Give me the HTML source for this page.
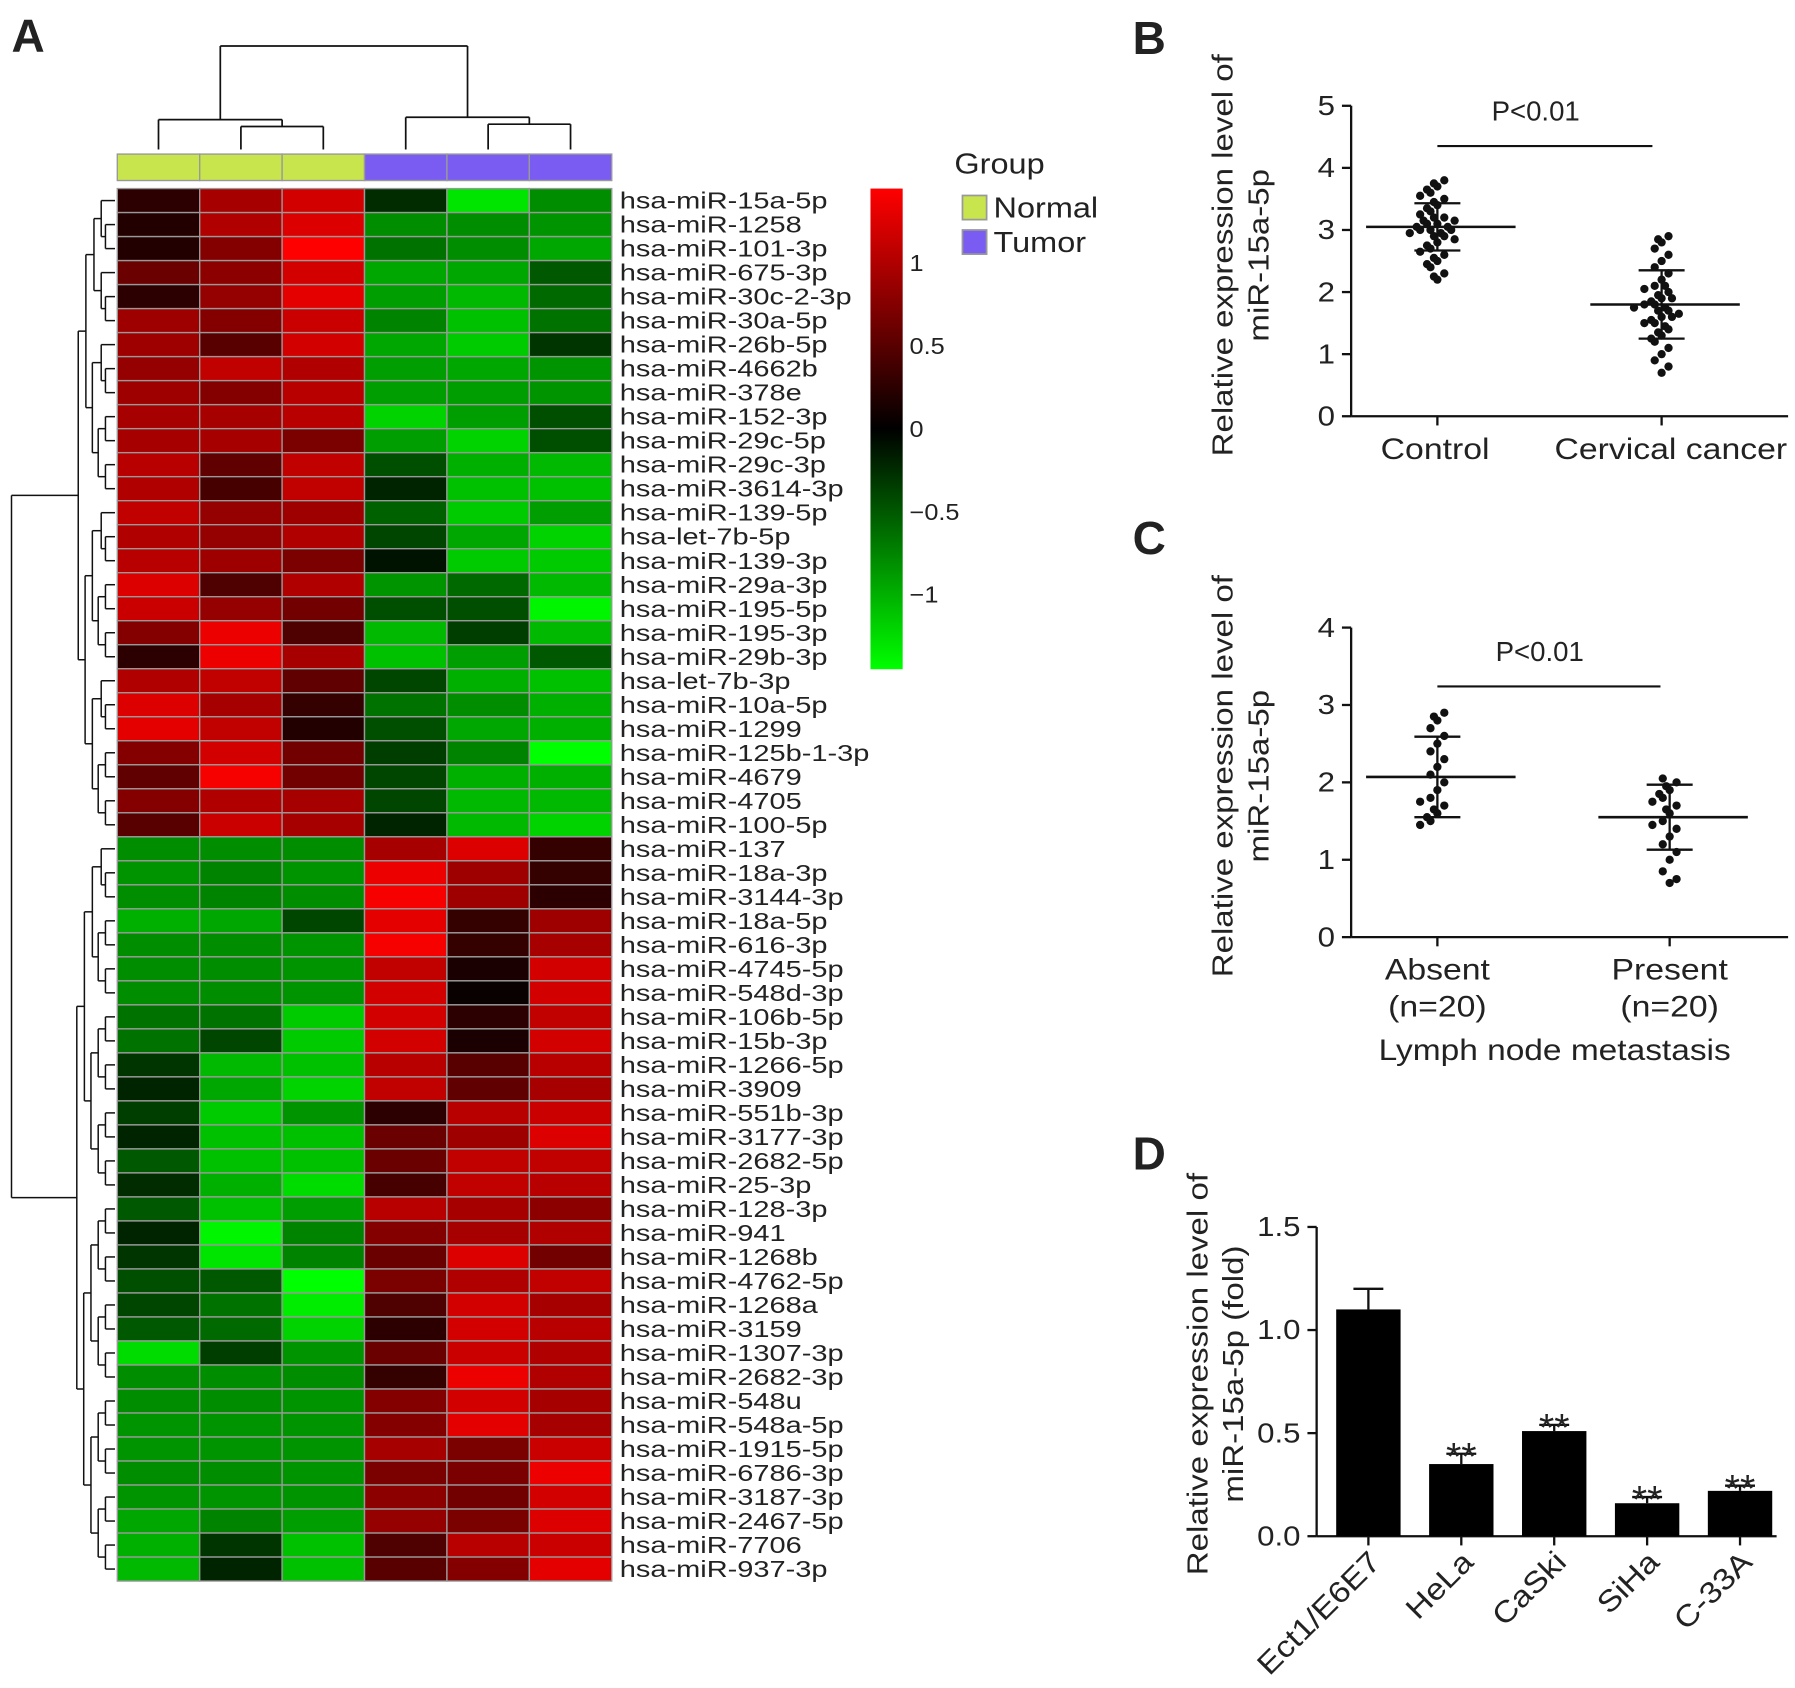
<!DOCTYPE html>
<html><head><meta charset="utf-8"><style>
html,body{margin:0;padding:0;background:#fff}
svg{display:block}
text{font-family:"Liberation Sans",Arial,sans-serif;fill:#222}
</style></head><body>
<svg id="fig" width="1795" height="1688" viewBox="0 0 1561 1468" preserveAspectRatio="none" xmlns="http://www.w3.org/2000/svg">
<rect width="1561" height="1468" fill="#fff"/>
<g id="pA"></g>
<g id="pB"></g>
<g id="pC"></g>
<g id="pD"></g>
</svg>
<script>
const rowNames=["hsa-miR-15a-5p","hsa-miR-1258","hsa-miR-101-3p","hsa-miR-675-3p","hsa-miR-30c-2-3p","hsa-miR-30a-5p","hsa-miR-26b-5p","hsa-miR-4662b","hsa-miR-378e","hsa-miR-152-3p","hsa-miR-29c-5p","hsa-miR-29c-3p","hsa-miR-3614-3p","hsa-miR-139-5p","hsa-let-7b-5p","hsa-miR-139-3p","hsa-miR-29a-3p","hsa-miR-195-5p","hsa-miR-195-3p","hsa-miR-29b-3p","hsa-let-7b-3p","hsa-miR-10a-5p","hsa-miR-1299","hsa-miR-125b-1-3p","hsa-miR-4679","hsa-miR-4705","hsa-miR-100-5p","hsa-miR-137","hsa-miR-18a-3p","hsa-miR-3144-3p","hsa-miR-18a-5p","hsa-miR-616-3p","hsa-miR-4745-5p","hsa-miR-548d-3p","hsa-miR-106b-5p","hsa-miR-15b-3p","hsa-miR-1266-5p","hsa-miR-3909","hsa-miR-551b-3p","hsa-miR-3177-3p","hsa-miR-2682-5p","hsa-miR-25-3p","hsa-miR-128-3p","hsa-miR-941","hsa-miR-1268b","hsa-miR-4762-5p","hsa-miR-1268a","hsa-miR-3159","hsa-miR-1307-3p","hsa-miR-2682-3p","hsa-miR-548u","hsa-miR-548a-5p","hsa-miR-1915-5p","hsa-miR-6786-3p","hsa-miR-3187-3p","hsa-miR-2467-5p","hsa-miR-7706","hsa-miR-937-3p"];
const sampleGroups=["Normal","Normal","Normal","Tumor","Tumor","Tumor"];
const heatValues=[
[0.25,0.95,1.2,-0.25,-1.3,-0.8],[0.2,1.0,1.25,-0.8,-0.8,-0.85],[0.2,0.75,1.45,-0.65,-0.8,-0.95],[0.6,0.8,1.2,-0.95,-0.95,-0.5],
[0.25,0.85,1.3,-0.9,-1.05,-0.6],[0.9,0.75,1.15,-0.75,-1.1,-0.65],[0.9,0.5,1.2,-0.95,-1.15,-0.3],[0.85,1.1,1.0,-0.9,-0.95,-0.85],
[0.9,0.75,1.05,-0.9,-0.9,-0.85],[0.95,0.95,1.05,-1.2,-0.9,-0.45],[0.95,0.95,0.7,-0.9,-1.2,-0.45],[1.05,0.55,1.1,-0.45,-1.0,-1.05],
[1.0,0.4,1.1,-0.2,-1.1,-1.1],[1.1,0.85,0.9,-0.55,-1.15,-0.9],[1.0,0.85,1.0,-0.4,-0.95,-1.2],[1.05,0.9,0.7,-0.1,-1.15,-1.15],
[1.25,0.45,1.0,-0.85,-0.6,-1.05],[1.15,0.85,0.65,-0.45,-0.45,-1.4],[0.75,1.35,0.45,-1.05,-0.35,-1.05],[0.25,1.35,0.95,-1.1,-0.9,-0.5],
[1.0,1.1,0.55,-0.4,-1.0,-1.1],[1.25,0.95,0.3,-0.65,-0.8,-1.0],[1.3,1.1,0.2,-0.45,-0.95,-1.0],[0.75,1.2,0.65,-0.35,-0.75,-1.45],
[0.55,1.4,0.65,-0.4,-1.0,-1.0],[0.75,1.0,0.95,-0.4,-1.05,-1.05],[0.5,1.15,0.95,-0.2,-1.05,-1.2],
[-0.8,-0.8,-0.8,0.95,1.25,0.3],[-0.85,-0.75,-0.85,1.35,0.9,0.3],[-0.8,-0.75,-0.8,1.4,0.9,0.25],[-1.0,-0.95,-0.4,1.3,0.3,0.9],
[-0.8,-0.8,-0.85,1.4,0.3,0.95],[-0.8,-0.8,-0.85,1.1,0.15,1.2],[-0.8,-0.8,-0.85,1.2,0.05,1.2],[-0.65,-0.65,-1.15,1.2,0.25,1.1],
[-0.65,-0.4,-1.15,1.2,0.15,1.2],[-0.3,-1.05,-1.1,1.05,0.5,1.05],[-0.2,-0.95,-1.2,1.1,0.55,0.95],[-0.35,-1.15,-0.85,0.25,1.05,1.15],
[-0.2,-1.1,-1.1,0.6,0.9,1.25],[-0.5,-1.1,-1.1,0.6,1.1,1.1],[-0.25,-1.0,-1.25,0.4,1.1,1.05],[-0.5,-1.1,-0.9,1.05,0.95,0.8],
[-0.2,-1.4,-0.75,0.75,0.95,1.0],[-0.3,-1.3,-0.75,0.6,1.25,0.65],[-0.45,-0.5,-1.45,0.7,1.0,1.1],[-0.4,-0.65,-1.35,0.45,1.2,0.95],
[-0.5,-0.6,-1.2,0.25,1.2,1.05],[-1.25,-0.35,-0.85,0.6,1.15,1.0],[-0.8,-0.8,-0.8,0.3,1.35,1.0],[-0.8,-0.8,-0.85,0.75,1.2,0.95],
[-0.85,-0.85,-0.85,0.75,1.3,0.95],[-0.85,-0.85,-0.85,0.95,0.7,1.15],[-0.8,-0.8,-0.85,0.7,0.7,1.35],[-0.85,-0.85,-0.85,0.8,0.65,1.2],
[-0.95,-0.75,-0.9,0.85,0.7,1.25],[-1.0,-0.3,-1.1,0.45,1.05,1.15],[-1.05,-0.2,-1.1,0.5,0.75,1.3]];
const colorTicks=[1,0.5,0,-0.5,-1];
const colorTickLabels=["1","0.5","0","\u22120.5","\u22121"];

const bCats=["Control","Cervical cancer"];
const bControl=[3.8,3.75,3.7,3.65,3.6,3.55,3.5,3.45,3.4,3.35,3.3,3.25,3.2,3.2,3.15,3.15,3.1,3.1,3.05,3.05,3.0,3.0,2.95,2.95,2.9,2.9,2.85,2.8,2.75,2.7,2.65,2.6,2.55,2.5,2.45,2.4,2.3,2.25,2.2,3.0];
const bCancer=[2.9,2.85,2.8,2.7,2.6,2.5,2.4,2.3,2.2,2.1,2.05,2.0,1.95,1.9,1.85,1.8,1.8,1.75,1.7,1.7,1.65,1.6,1.55,1.5,1.5,1.45,1.4,1.35,1.3,1.25,1.2,1.1,1.0,0.9,0.8,0.7,1.6,1.9,2.1,1.75];
const bMeans=[3.05,1.8];
const bSD=[0.38,0.55];
const bTicks=[0,1,2,3,4,5];

const cCats=["Absent","Present"];
const cAbsent=[2.9,2.85,2.8,2.7,2.6,2.5,2.4,2.3,2.2,2.1,2.0,1.9,1.8,1.75,1.7,1.65,1.6,1.55,1.5,1.45];
const cPresent=[2.05,2.0,1.95,1.9,1.85,1.8,1.75,1.7,1.65,1.6,1.5,1.45,1.4,1.3,1.2,1.1,1.0,0.85,0.75,0.7];
const cMeans=[2.07,1.55];
const cSD=[0.52,0.42];
const cTicks=[0,1,2,3,4];

const dCats=["Ect1/E6E7","HeLa","CaSki","SiHa","C-33A"];
const dValues=[1.1,0.35,0.51,0.16,0.22];
const dErr=[0.1,0.05,0.03,0.03,0.025];
const dSig=["","**","**","**","**"];
const dTicks=[0,0.5,1.0,1.5];
const dTickLabels=["0.0","0.5","1.0","1.5"];

const NS="http://www.w3.org/2000/svg";
function mk(tag,attrs,parent,txt){const e=document.createElementNS(NS,tag);for(const k in attrs)e.setAttribute(k,attrs[k]);if(txt!==undefined)e.textContent=txt;parent.appendChild(e);return e;}
function stretch(e,f){const l=e.getComputedTextLength();if(l>0){e.setAttribute('textLength',(l*f).toFixed(1));e.setAttribute('lengthAdjust','spacingAndGlyphs');}return e;}
function line(p,x1,y1,x2,y2,w,c){return mk('line',{x1,y1,x2,y2,stroke:c||'#111','stroke-width':w||2},p);}
function heatColor(v){const f=Math.min(1,Math.abs(v)/1.45);const c=Math.round(255*f);return v>=0?`rgb(${c},0,0)`:`rgb(0,${c},0)`;}
const SF=1.13;

/* ---------- Panel A ---------- */
const A=document.getElementById('pA');
const hx0=102,hx1=532,hy0=164,hy1=1375;
const cw=(hx1-hx0)/6, rh=(hy1-hy0)/rowNames.length;
const colX=i=>hx0+i*cw, rowY=j=>hy0+j*rh;
let t=mk('text',{x:10,y:45,'font-size':40,'font-weight':'bold'},A,'A');

heatValues.forEach((row,j)=>row.forEach((v,i)=>{
  const r=mk('rect',{x:colX(i),y:rowY(j),width:cw,height:rh,fill:heatColor(v),stroke:'#999','stroke-width':1.2},A);
  
  
}));
rowNames.forEach((n,j)=>{
  const e=mk('text',{x:539,y:rowY(j)+rh/2+7,'font-size':20},A,n);
  
  
  stretch(e,1.26);
});
sampleGroups.forEach((g,i)=>{
  const r=mk('rect',{x:colX(i),y:134,width:cw,height:23,fill:g==='Normal'?'#c8e54e':'#7a5cf2',stroke:'#999','stroke-width':1.2},A);
  
  
});
const cc=i=>colX(i)+cw/2;
[[cc(1),cc(2),110],[cc(4),cc(5),108]].forEach(([a,b,y])=>{line(A,a,y,b,y,1.5);line(A,a,y,a,130,1.5);line(A,b,y,b,130,1.5);});
const m1=(cc(1)+cc(2))/2,m2=(cc(4)+cc(5))/2;
line(A,cc(0),104,m1,104,1.5);line(A,cc(0),104,cc(0),130,1.5);line(A,m1,104,m1,110,1.5);
line(A,cc(3),102,m2,102,1.5);line(A,cc(3),102,cc(3),130,1.5);line(A,m2,102,m2,108,1.5);
const r1=(cc(0)+m1)/2,r2=(cc(3)+m2)/2;
line(A,r1,40,r2,40,1.5);line(A,r1,40,r1,104,1.5);line(A,r2,40,r2,102,1.5);
function tree(lo,hi){
  if(hi-lo===1)return{x:100,y:rowY(lo)+rh/2};
  const mid=Math.floor((lo+hi)/2);
  const a=tree(lo,mid),b=tree(mid,hi);
  const x=98-6.3*Math.log2(hi-lo);
  line(A,x,a.y,x,b.y,1.3);line(A,x,a.y,a.x,a.y,1.3);line(A,x,b.y,b.x,b.y,1.3);
  return{x,y:(a.y+b.y)/2};
}
const ta=tree(0,27),tb=tree(27,58);
line(A,10,ta.y,10,tb.y,1.3);line(A,10,ta.y,ta.x,ta.y,1.3);line(A,10,tb.y,tb.x,tb.y,1.3);
const cbY0=164,cbY1=582,cbMax=1.45;
const cbY=v=>cbY0+(cbMax-v)/(2*cbMax)*(cbY1-cbY0);
const defs=mk('defs',{},A);
const lg=mk('linearGradient',{id:'cbg',x1:0,y1:0,x2:0,y2:1},defs);
mk('stop',{offset:'0','stop-color':'#ff0000'},lg);mk('stop',{offset:'0.5','stop-color':'#000'},lg);mk('stop',{offset:'1','stop-color':'#00ff00'},lg);
const cb=mk('rect',{x:757,y:cbY0,width:28,height:cbY1-cbY0,fill:'url(#cbg)'},A);

colorTicks.forEach((v,i)=>{
  const e=mk('text',{x:791,y:cbY(v)+7,'font-size':20},A,colorTickLabels[i]);
  
  
  stretch(e,1.1);
});
t=mk('text',{x:830,y:151,'font-size':25},A,'Group');stretch(t,SF);
[['Normal','#c8e54e',170],['Tumor','#7a5cf2',200]].forEach(([n,c,y])=>{
  const g=mk('g',{},A);
  mk('rect',{x:837,y:y,width:21,height:21,fill:c,stroke:'#999','stroke-width':1.5},g);
  stretch(mk('text',{x:864,y:y+19,'font-size':25},g,n),SF);
});

function axisY(p,x,yTop,yBot,ticks,yFn,labels){
  line(p,x,yTop,x,yBot,2);
  ticks.forEach((v,i)=>{line(p,x-8,yFn(v),x,yFn(v),2);
    const e=mk('text',{x:x-14,y:yFn(v)+8,'font-size':24,'text-anchor':'end'},p,labels?labels[i]:String(v));
    
    
    stretch(e,SF);});
}
function scatterPanel(p,o){
  const y=v=>o.y0-v*o.unit;
  axisY(p,o.ax,y(o.ticks[o.ticks.length-1]),o.y0,o.ticks,y);
  line(p,o.ax,o.y0,o.axEnd,o.y0,2);
  o.cats.forEach((c,ci)=>{const cx=o.cx[ci];line(p,cx,o.y0,cx,o.y0+8,2);});
  o.series.forEach((vals,ci)=>{
    const cx=o.cx[ci];
    const counts={};
    vals.forEach(v=>{
      const k=Math.round(v*10);counts[k]=(counts[k]||0)+1;
      const n=counts[k];const off=(n%2?1:-1)*Math.floor(n/2)*9+((k%3)-1)*6;
      const d=mk('circle',{cx:cx+off,cy:y(v),r:3.6,fill:'#111'},p);
      
      
    });
    const mm=o.means[ci],sd=o.sd[ci];
    const ml=line(p,cx-62,y(mm),cx+68,y(mm),2.2);
    
    line(p,cx,y(mm+sd),cx,y(mm-sd),2);
    line(p,cx-20,y(mm+sd),cx+20,y(mm+sd),2);line(p,cx-20,y(mm-sd),cx+20,y(mm-sd),2);
  });
  line(p,o.cx[0],o.sigY,o.cx[1]-8,o.sigY,1.8);
  const s=mk('text',{x:(o.cx[0]+o.cx[1])/2-12,y:o.sigY-22,'font-size':24,'text-anchor':'middle'},p,'P<0.01');
  
}
function ylab(p,x,cy,lines){
  lines.forEach((l,i)=>{const e=mk('text',{x:x+i*31,y:cy,'font-size':25,'text-anchor':'middle',transform:`rotate(-90 ${x+i*31} ${cy})`},p,l);
    stretch(e,1.15);});
}
function xlab(p,x,y,s,name,f){const e=mk('text',{x,y,'font-size':26,'text-anchor':'middle'},p,s);stretch(e,f||SF);return e;}

/* ---------- Panel B ---------- */
const B=document.getElementById('pB');
t=mk('text',{x:985,y:47,'font-size':40,'font-weight':'bold'},B,'B');
scatterPanel(B,{ax:1175,axEnd:1555,y0:362,unit:54,ticks:bTicks,cats:bCats,cx:[1250,1445],series:[bControl,bCancer],means:bMeans,sd:bSD,sigY:127});
bCats.forEach((c,i)=>xlab(B,[1248,1453][i],399,c,'x-category-label'));
ylab(B,1072,222,['Relative expression level of','miR-15a-5p']);

/* ---------- Panel C ---------- */
const C=document.getElementById('pC');
t=mk('text',{x:985,y:482,'font-size':40,'font-weight':'bold'},C,'C');
scatterPanel(C,{ax:1175,axEnd:1555,y0:815,unit:67.3,ticks:cTicks,cats:cCats,cx:[1250,1452],series:[cAbsent,cPresent],means:cMeans,sd:cSD,sigY:597});
cCats.forEach((c,i)=>{const x=[1250,1452][i];
  xlab(C,x,852,c,'x-category-label');
  xlab(C,x,884,'(n=20)','x-category-n');});
xlab(C,1352,922,'Lymph node metastasis','x-axis-title',1.12);
ylab(C,1072,675,['Relative expression level of','miR-15a-5p']);

/* ---------- Panel D ---------- */
const D=document.getElementById('pD');
t=mk('text',{x:985,y:1017,'font-size':40,'font-weight':'bold'},D,'D');
const dy0=1336,dunit=179.3,dY=v=>dy0-v*dunit;
axisY(D,1145,dY(1.5),dy0,dTicks,dY,dTickLabels);
line(D,1145,dy0,1545,dy0,2);
const dcx=i=>1190+i*80.8;
dCats.forEach((c,i)=>{
  const x=dcx(i),v=dValues[i];
  const b=mk('rect',{x:x-28,y:dY(v),width:56,height:dy0-dY(v),fill:'#000'},D);
  
  
  line(D,x,dY(v),x,dY(v+dErr[i]),2);line(D,x-13,dY(v+dErr[i]),x+13,dY(v+dErr[i]),2);
  line(D,x,dy0,x,dy0+8,2);
  if(dSig[i]){const s=mk('text',{x,y:dY(v+dErr[i])+14,'font-size':34,'text-anchor':'middle'},D,dSig[i]);}
  const l=mk('text',{x:x+12,y:dy0+24,'font-size':26,'text-anchor':'end',transform:`rotate(-45 ${x+12} ${dy0+24})`},D,c);
  
  stretch(l,SF);
});
ylab(D,1050,1195,['Relative expression level of','miR-15a-5p (fold)']);
</script>
</body></html>
